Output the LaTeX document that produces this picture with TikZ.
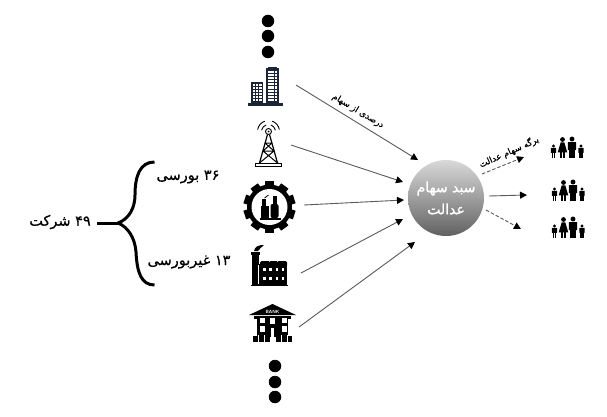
\documentclass[tikz,border=0pt]{standalone}
\usepackage{fontspec}
\usetikzlibrary{arrows.meta}
\TeXXeTstate=1
\newfontfamily\arabicfont[Script=Arabic,FakeBold=0.5]{DejaVu Sans}
\newfontfamily\arabicfontb[Script=Arabic,FakeBold=1.2]{DejaVu Sans}
\newcommand{\figperson}[3]{% x, foot y, height
  \fill (#1,#2-#3) circle ({0.13*#3});
  \fill[rounded corners=0.4pt] (#1-0.22*#3,#2-0.84*#3) rectangle (#1+0.22*#3,#2-0.42*#3);
  \fill (#1-0.15*#3,#2-0.45*#3) rectangle (#1-0.015*#3,#2);
  \fill (#1+0.015*#3,#2-0.45*#3) rectangle (#1+0.15*#3,#2);
}
\newcommand{\figwoman}[3]{%
  \fill (#1,#2-#3) circle ({0.13*#3});
  \fill (#1-0.1*#3,#2-0.84*#3) -- (#1+0.1*#3,#2-0.84*#3) -- (#1+0.26*#3,#2-0.3*#3) -- (#1-0.26*#3,#2-0.3*#3) -- cycle;
  \fill (#1-0.11*#3,#2-0.35*#3) rectangle (#1-0.015*#3,#2);
  \fill (#1+0.015*#3,#2-0.35*#3) rectangle (#1+0.11*#3,#2);
}
\tikzset{
  x=1pt,y=-1pt,
  dotnode/.style={circle,fill=black,inner sep=0pt,minimum size=12.5pt},
  inarrow/.style={draw=black!65,line width=0.9pt,-{Triangle[black,length=7pt,width=7pt]}},
  outarrow/.style={inarrow},
  dasharrow/.style={inarrow,dash pattern=on 3.5pt off 2pt},
  bracepath/.style={line width=3pt,line cap=butt},
  label/.style={font=\arabicfont\fontsize{14.5}{17}\selectfont,inner sep=0pt,text=black},
  small/.style={font=\arabicfont\fontsize{8.7}{10}\selectfont,inner sep=0pt,text=black},
  pool/.style={circle,minimum size=76pt,inner sep=0pt,top color=black!15,bottom color=black!62,middle color=black!38,
    text=white,align=center,font=\arabicfontb\fontsize{14}{22}\selectfont},
  pics/family/.style={code={
    \figperson{-13.5}{10}{12}
    \figwoman{-4.5}{10}{18.5}
    \figperson{5}{10}{19}
    \figperson{14}{10}{12}
  }},
  pics/buildingicon/.style={code={
    \fill[#1] (3,14) rectangle (15,36);
    \fill[#1] (18,0) rectangle (31,36);
    \fill[#1] (20,-1) rectangle (29,1);
    \fill[#1] (0,35.5) rectangle (35,38);
    \foreach \c in {0,1,2}{
      \foreach \r in {0,...,5}{\fill[white] (4.6+3.3*\c,16.5+3*\r) rectangle +(2.3,2);}
      \foreach \r in {0,...,9}{\fill[white] (20+3.4*\c,3+3.1*\r) rectangle +(2.5,2.1);}
    }
  }},
  pics/towericon/.style={code={
    \draw[line width=0.9pt] (13.5,9.5) circle (3);
    \fill (13.5,9.5) circle (1);
    \draw[line width=1.2pt] (12.5,12.5) -- (4.5,41) (14.5,12.5) -- (22.5,41);
    \draw[line width=1pt] (10,21) -- (17,21) (8,29) -- (19,29) (10,21) -- (19,29) (17,21) -- (8,29) (8,29) -- (22.5,41) (19,29) -- (4.5,41);
    \draw[line width=1pt] (0.5,41.5) rectangle (26.5,44.5);
    \foreach \r in {7,11}{
      \draw[line width=0.9pt] (13.5,9.5) +(190:\r) arc (190:250:\r);
      \draw[line width=0.9pt] (13.5,9.5) +(-70:\r) arc (-70:-10:\r);
    }
  }},
  pics/gearicon/.style={code={
    \foreach \a in {0,36,...,324}{\fill[rotate=\a] (-4.5,-26) rectangle (4.5,-20);}
    \fill circle (22.5);
    \fill[white] circle (18);
    \fill (-9,11) rectangle (-1,-1);
    \fill (-7.5,0) rectangle (-4,-8);
    \fill[rounded corners=2pt] (1,11) rectangle (9,-3);
    \fill (3,-3) rectangle (7,-11);
    \fill (-10,11) rectangle (11,12.5);
    \draw[line width=0.8pt] (-5,-9) -- (-1,-12);
  }},
  pics/factoryicon/.style={code={
    \fill (1,8) rectangle (8,41);
    \fill (0,7) rectangle (9,10);
    \fill (8,19) rectangle (36,41);
    \fill[rounded corners=1.5pt] (9,16) rectangle (19,22);
    \fill[rounded corners=1.5pt] (18,16) rectangle (27,22);
    \fill[rounded corners=1.5pt] (26,16) rectangle (36,22);
    \fill (0,39.5) rectangle (37,41);
    \fill (3,6) .. controls (4,1) and (8,0) .. (13,0) .. controls (10,2) and (9,4) .. (7,6) -- cycle;
    \foreach \x in {12.3,18.3,24.7,30.7}{\foreach \y in {23.3,31.7}{\fill[white] (\x,\y) rectangle +(2.7,3);}}
    \draw[white,line width=0.4pt] (7.5,20) -- (7.5,39);
  }},
  pics/bankicon/.style={code={
    \fill (0,11) -- (23.5,0) -- (47,11) -- cycle;
    \node[font=\sffamily\bfseries\fontsize{4.6}{5}\selectfont,text=white,inner sep=0pt] (banktext) at (23.5,7.5) {BANK};
    \fill (5,12) rectangle (42,15);
    \fill (8,15) rectangle (39,33);
    \foreach \x in {11,32.7}{
      \fill[white] (\x,13.5) rectangle +(5,5.5);
      \fill[white] (\x,22) rectangle +(5,5.5);
    }
    \fill[white] (21,13.5) rectangle (26,20);
    \fill[white] (21.7,24) rectangle (25.3,38);
    \fill (4,31.5) rectangle (20.5,38);
    \fill (26.5,31.5) rectangle (43,38);
    \draw[white,line width=0.5pt] (9,31) -- (9,38) (15,31) -- (15,38) (32,31) -- (32,38) (38,31) -- (38,38);
  }},
}
\definecolor{bldgblue}{HTML}{1C2438}
\begin{document}
\begin{tikzpicture}
\useasboundingbox (0,0) rectangle (607,417);

% dots
\node[dotnode] (t1) at (268,21) {};
\node[dotnode] (t2) at (268,36) {};
\node[dotnode] (t3) at (268,52) {};
\node[dotnode] (b1) at (275,366) {};
\node[dotnode] (b2) at (275,382) {};
\node[dotnode] (b3) at (275,397) {};

% icons
\pic at (248,68) {buildingicon={bldgblue}};
\pic at (255,122) {towericon};
\pic at (269.5,207) {gearicon};
\pic at (251,245) {factoryicon};
\pic at (249,304) {bankicon};

% centre
\node[pool] (pool) at (446,198) {\beginR سبد سهام\endR\\\beginR عدالت\endR};

% connector ends
\coordinate (s1) at (296,85);
\coordinate (e1) at (418,160);
\coordinate (s2) at (291,145);
\coordinate (e2) at (403,182);
\coordinate (s3) at (304,205);
\coordinate (e3) at (404,200);
\coordinate (s4) at (301,273);
\coordinate (e4) at (403,219);
\coordinate (s5) at (299,327);
\coordinate (e5) at (415,242);
\coordinate (o1s) at (482,174);
\coordinate (o1e) at (524,157);
\coordinate (o2s) at (489,196);
\coordinate (o2e) at (527,195);
\coordinate (o3s) at (486,210);
\coordinate (o3e) at (521,229);
\draw[inarrow] (s1) -- (e1);
\draw[inarrow] (s2) -- (e2);
\draw[inarrow] (s3) -- (e3);
\draw[inarrow] (s4) -- (e4);
\draw[inarrow] (s5) -- (e5);
\draw[dasharrow] (o1s) -- (o1e);
\draw[outarrow] (o2s) -- (o2e);
\draw[dasharrow] (o3s) -- (o3e);

% connector labels
\node[small,rotate=-31] (l1) at (358,111) {\beginR درصدی از سهام\endR};
\node[small,rotate=24] (l2) at (509,152) {\beginR برگه سهام عدالت\endR};

% families
\pic at (567,148) {family};
\pic at (568,191) {family};
\pic at (568,228) {family};

% brace
\coordinate (stem) at (97,223);
\coordinate (joint) at (118,223);
\coordinate (bt) at (154.5,162);
\coordinate (bb) at (154.5,285);
\draw[bracepath] (stem) -- (joint);
\draw[bracepath] (joint) .. controls (129,219) and (135,208) .. (135,195) .. controls (135,176) and (140,162) .. (bt);
\draw[bracepath] (joint) .. controls (128,227) and (135,238) .. (136,252) .. controls (137,272) and (141,285) .. (bb);

% texts
\node[label] (n49) at (60,222) {\beginR\beginL ۴۹\endL{} شرکت\endR};
\node[label] (n36) at (188,177) {\beginR\beginL ۳۶\endL{} بورسی\endR};
\node[label] (n13) at (189,262) {\beginR\beginL ۱۳\endL{} غیربورسی\endR};
\end{tikzpicture}
\end{document}
